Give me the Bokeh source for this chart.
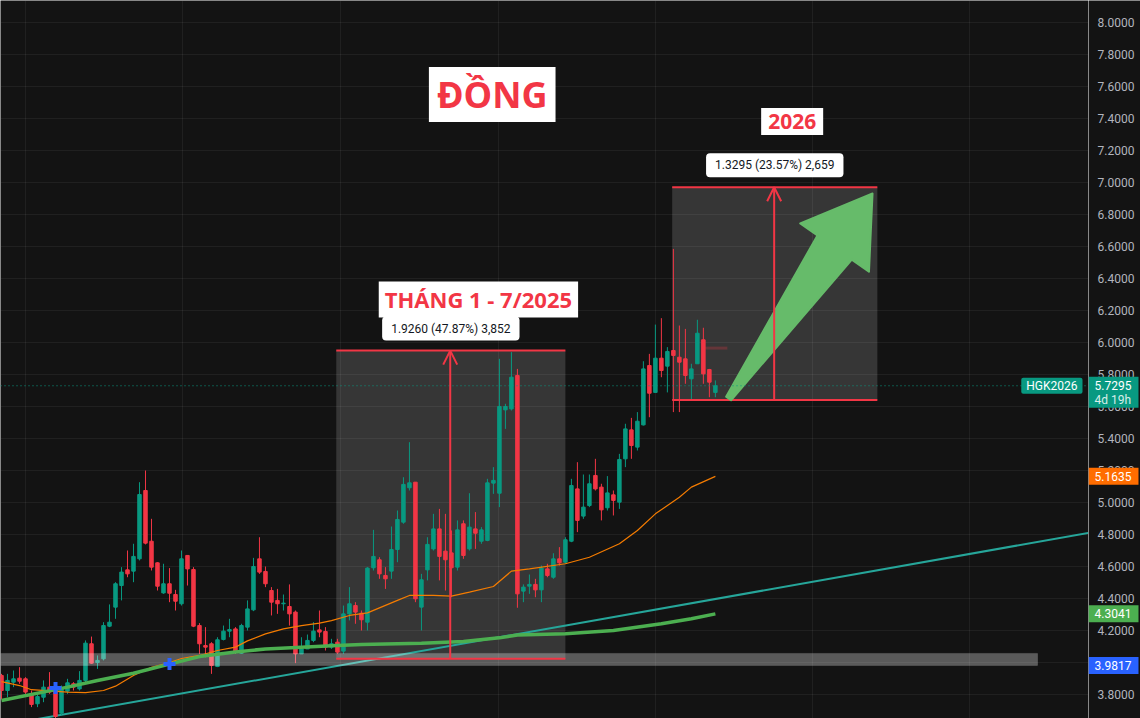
import numpy as np
from bokeh.plotting import figure
from bokeh.layouts import row
from bokeh.models import (Range1d, FixedTicker, Label, Arrow, OpenHead, Span, Grid,
                          ColumnDataSource)
from bokeh.core.properties import value
from bokeh.embed import file_html
from bokeh.resources import INLINE

# ---------------- data ----------------
opens = [3.919, 3.825, 3.877, 3.902, 3.898, 3.804, 3.742, 3.783, 3.846, 3.835,
         3.683, 3.821, 3.867, 3.835, 3.888, 4.117, 4.000, 4.023, 4.227, 4.346,
         4.481, 4.579, 4.571, 4.648, 5.075, 4.758, 4.623, 4.435, 4.492, 4.425,
         4.367, 4.669, 4.581, 4.231, 4.106, 4.117, 3.975, 4.144, 4.196, 4.210,
         4.058, 4.221, 4.329, 4.648, 4.569, 4.450, 4.388, 4.367, 4.350, 4.315,
         4.054, 4.085, 4.138, 4.204, 4.194, 4.096, 4.127, 4.071, 4.304, 4.356,
         4.308, 4.252, 4.592, 4.642, 4.544, 4.571, 4.706, 4.877, 5.092, 5.127,
         4.346, 4.579, 4.710, 4.835, 4.696, 4.685, 4.596, 4.867, 4.710, 4.835,
         4.758, 4.763, 5.121, 5.058, 5.579, 5.585, 5.794, 4.446, 4.477, 4.488,
         4.454, 4.585, 4.533, 4.648, 4.627, 4.758, 5.085, 4.915, 4.981, 5.169,
         5.096, 4.967, 5.048, 5.002, 5.273, 5.454, 5.346, 5.485, 5.856, 5.688,
         5.902, 5.852, 5.950, 5.908, 5.898, 5.773, 5.867, 6.017, 5.831, 5.688]
highs = [3.929, 3.929, 3.950, 3.971, 3.908, 3.825, 3.804, 3.888, 3.940, 3.846,
         3.856, 3.898, 3.877, 3.946, 4.138, 4.162, 4.044, 4.252, 4.363, 4.502,
         4.596, 4.700, 4.742, 5.127, 5.200, 4.898, 4.627, 4.617, 4.590, 4.454,
         4.700, 4.669, 4.596, 4.246, 4.221, 4.127, 4.158, 4.231, 4.273, 4.221,
         4.242, 4.388, 4.654, 4.783, 4.600, 4.471, 4.460, 4.425, 4.488, 4.325,
         4.158, 4.175, 4.252, 4.325, 4.221, 4.148, 4.148, 4.356, 4.471, 4.377,
         4.325, 4.596, 4.829, 4.658, 4.596, 4.850, 4.950, 5.158, 5.377, 5.127,
         4.554, 4.783, 4.929, 4.960, 4.929, 4.825, 4.888, 4.888, 5.058, 4.940,
         4.846, 5.148, 5.221, 5.898, 5.617, 5.940, 5.835, 4.488, 4.550, 4.523,
         4.606, 4.617, 4.683, 4.721, 4.783, 5.148, 5.252, 5.175, 5.175, 5.273,
         5.117, 5.165, 5.075, 5.304, 5.492, 5.529, 5.565, 5.883, 5.929, 6.112,
         6.152, 5.971, 6.585, 6.106, 6.085, 5.867, 6.142, 6.092, 5.835, 5.763]
lows = [3.770, 3.783, 3.846, 3.867, 3.804, 3.721, 3.721, 3.752, 3.804, 3.650,
        3.669, 3.804, 3.825, 3.825, 3.877, 3.992, 3.960, 4.013, 4.221, 4.273,
        4.388, 4.533, 4.502, 4.638, 4.738, 4.575, 4.450, 4.429, 4.377, 4.325,
        4.356, 4.481, 4.221, 4.054, 4.033, 3.929, 3.971, 4.138, 4.158, 4.054,
        4.054, 4.200, 4.321, 4.554, 4.471, 4.294, 4.304, 4.325, 4.231, 3.996,
        4.054, 4.085, 4.127, 4.158, 4.075, 4.085, 4.054, 4.054, 4.263, 4.242,
        4.200, 4.200, 4.575, 4.523, 4.460, 4.523, 4.627, 4.867, 5.075, 4.377,
        4.200, 4.513, 4.700, 4.513, 4.450, 4.408, 4.575, 4.648, 4.700, 4.710,
        4.742, 4.758, 5.054, 4.971, 5.460, 5.575, 4.342, 4.377, 4.429, 4.408,
        4.377, 4.533, 4.523, 4.606, 4.617, 4.752, 4.815, 4.898, 4.971, 5.075,
        4.888, 4.950, 4.919, 4.960, 5.221, 5.273, 5.325, 5.481, 5.533, 5.688,
        5.783, 5.688, 5.565, 5.565, 5.742, 5.638, 5.867, 5.742, 5.658, 5.658]
closes = [3.825, 3.888, 3.898, 3.883, 3.815, 3.738, 3.787, 3.846, 3.815, 3.663,
          3.835, 3.873, 3.846, 3.888, 4.121, 3.996, 4.013, 4.231, 4.252, 4.492,
          4.565, 4.554, 4.663, 5.050, 4.746, 4.596, 4.477, 4.492, 4.433, 4.383,
          4.648, 4.585, 4.227, 4.117, 4.096, 3.981, 4.142, 4.196, 4.206, 4.065,
          4.231, 4.335, 4.600, 4.565, 4.492, 4.377, 4.367, 4.371, 4.304, 4.054,
          4.085, 4.138, 4.196, 4.190, 4.096, 4.117, 4.065, 4.304, 4.367, 4.315,
          4.267, 4.590, 4.663, 4.554, 4.523, 4.706, 4.894, 5.113, 5.123, 4.398,
          4.517, 4.738, 4.835, 4.663, 4.642, 4.592, 4.829, 4.669, 4.846, 4.808,
          4.829, 5.123, 5.138, 5.600, 5.600, 5.783, 4.429, 4.471, 4.488, 4.454,
          4.590, 4.544, 4.648, 4.623, 4.767, 5.106, 4.888, 4.971, 5.117, 5.085,
          4.954, 5.060, 5.013, 5.269, 5.460, 5.356, 5.508, 5.835, 5.683, 5.902,
          5.825, 5.944, 5.919, 5.877, 5.794, 5.835, 6.058, 5.804, 5.752, 5.7295]

# moving averages (at several bars)
ma_fast_idx = [0, 3, 5, 11, 14, 17, 19, 22, 25, 28, 30, 33, 36, 39, 41, 44, 47, 50, 53,
               55, 58, 61, 66, 68, 72, 75, 78, 82, 85, 88, 94, 98, 103, 106, 109, 113, 115, 119]
ma_fast_val = [3.88, 3.856, 3.83, 3.815, 3.812, 3.825, 3.852, 3.919, 3.97, 4.0, 4.025,
               4.044, 4.075, 4.096, 4.135, 4.179, 4.21, 4.231, 4.246, 4.262, 4.294, 4.31,
               4.388, 4.419, 4.419, 4.415, 4.44, 4.475, 4.571, 4.585, 4.617, 4.658, 4.742,
               4.825, 4.929, 5.033, 5.096, 5.1635]
ma_slow_idx = [0, 11, 16, 22, 28, 33, 39, 44, 50, 55, 60, 70, 77, 83, 86, 94, 102, 110, 115, 119]
ma_slow_val = [3.762, 3.846, 3.888, 3.933, 3.99, 4.037, 4.065, 4.085, 4.096, 4.104, 4.112,
               4.121, 4.131, 4.154, 4.172, 4.179, 4.2, 4.242, 4.273, 4.3041]

trend_idx = [5, 181.2]
trend_val = [3.64, 4.81]

price_ticks = [3.8, 4.0, 4.2, 4.4, 4.6, 4.8, 5.0, 5.2, 5.4, 5.6, 5.8, 6.0, 6.2, 6.4,
               6.6, 6.8, 7.0, 7.2, 7.4, 7.6, 7.8, 8.0]
tick_labels = [f"{t:.4f}" for t in price_ticks]
month_ticks = [4.0, 30.2, 56.5, 82.8, 109.0, 135.2, 161.3]

band_low, band_high, band_end = 3.9817, 4.057, 172.7

measure1 = dict(start=55.8, end=94.0, low=4.0235, high=5.9495, at=74.8,
                text="1.9260 (47.87%) 3,852")
measure2 = dict(start=111.8, end=146.0, low=5.6405, high=6.97, at=128.8,
                text="1.3295 (23.57%) 2,659")

cross_idx = [9, 28]
cross_val = [3.84, 3.99]

mark_idx = [117.3, 121.0]
mark_val = 5.965

arrow_from = (121.2, 5.65)
arrow_to = (145.2, 6.931)

symbol = "HGK2026"
countdown = "4d 19h"
last_price = 5.7295
ma_fast_last = 5.1635
ma_slow_last = 4.3041

title_main = ("ĐỒNG", 81.8, 7.55)
title_range = ("THÁNG 1 - 7/2025", 79.5, 6.269)
title_year = ("2026", 131.8, 7.381)

# ---------------- style ----------------
BG = "#131313"
UP = "#089981"
DOWN = "#f23645"
ORANGE = "#ff6d00"
GREEN = "#4caf50"
BLUE = "#2962ff"
W, H = 1140, 718
AXIS_W = 52
X0, X1 = -0.17, 181.2
Y0, Y1 = 3.65, 8.1375
sx = (W - AXIS_W) / (X1 - X0)
sy = H / (Y1 - Y0)

p = figure(width=W - AXIS_W, height=H, x_range=Range1d(X0, X1), y_range=Range1d(Y0, Y1),
           x_axis_location=None, y_axis_location=None,
           output_backend="svg", toolbar_location=None, min_border=0,
           min_border_left=0, min_border_right=0, min_border_top=0, min_border_bottom=0,
           background_fill_color=BG, border_fill_color=BG, outline_line_color=None)
p.grid.visible = False
p.add_layout(Grid(dimension=1, ticker=FixedTicker(ticks=price_ticks),
                  grid_line_color="#ffffff", grid_line_alpha=0.06))
p.add_layout(Grid(dimension=0, ticker=FixedTicker(ticks=month_ticks),
                  grid_line_color="#ffffff", grid_line_alpha=0.06))

# measure boxes (fill)
for m in (measure1, measure2):
    p.quad(left=m["start"], right=m["end"], bottom=m["low"], top=m["high"],
           fill_color="#ffffff", fill_alpha=0.15, line_color=None)

# trend line
p.line(trend_idx, trend_val, line_color="#26a69a", line_width=2)

# candles
idx = np.arange(len(opens))
o = np.array(opens); c = np.array(closes)
colors = [UP if cc >= oo else DOWN for oo, cc in zip(opens, closes)]
src = ColumnDataSource(dict(x=idx, h=highs, l=lows, top=np.maximum(o, c),
                            bot=np.minimum(o, c), color=colors))
p.segment(x0="x", y0="h", x1="x", y1="l", line_color="color", line_width=1, source=src)
p.vbar(x="x", width=0.58, top="top", bottom="bot", fill_color="color",
       line_color="color", line_width=1, source=src)

# support band
p.quad(left=X0, right=band_end, bottom=band_low, top=band_high,
       fill_color="#ffffff", fill_alpha=0.3, line_color="#ffffff", line_alpha=0.12)

# moving averages
p.line(ma_fast_idx, ma_fast_val, line_color="#f57c00", line_width=1.2)
p.line(ma_slow_idx, ma_slow_val, line_color=GREEN, line_width=3.5)

p.scatter(cross_idx, cross_val, marker="cross", size=12, line_width=4, line_color=BLUE)

p.segment(x0=mark_idx[0], x1=mark_idx[1], y0=mark_val, y1=mark_val,
          line_color=DOWN, line_alpha=0.25, line_width=3)

# last price dotted line
p.add_layout(Span(location=last_price, dimension="width", line_color=UP,
                  line_dash="1 3", line_width=1))

# measure lines, arrows and labels
for m in (measure1, measure2):
    p.segment(x0=[m["start"], m["start"]], x1=[m["end"], m["end"]],
              y0=[m["low"], m["high"]], y1=[m["low"], m["high"]],
              line_color=DOWN, line_width=2)
    p.add_layout(Arrow(end=OpenHead(size=14, line_color=DOWN, line_width=2),
                       x_start=m["at"], y_start=m["low"], x_end=m["at"], y_end=m["high"],
                       line_color=DOWN, line_width=2))
    p.add_layout(Label(x=(m["start"] + m["end"]) / 2, y=m["high"] + 22 / sy, text=m["text"],
                       text_align="center", text_baseline="middle",
                       text_font="Roboto", text_font_size="12px", text_color="#131722",
                       background_fill_color="#ffffff", background_fill_alpha=1.0,
                       padding=(9, 5), border_radius=4))

# big green arrow (shape built in screen proportions)
P0 = np.array([arrow_from[0] * sx, arrow_from[1] * sy])
P1 = np.array([arrow_to[0] * sx, arrow_to[1] * sy])
d = P1 - P0
u = d / np.linalg.norm(d)
n = np.array([-u[1], u[0]])
head_len, head_hw, neck_hw, tail_hw = 66, 42, 21, 3
B = P1 - u * head_len
pts = [P0 + n * tail_hw, B + n * neck_hw, B + n * head_hw, P1,
       B - n * head_hw, B - n * neck_hw, P0 - n * tail_hw]
p.patch([q[0] / sx for q in pts], [q[1] / sy for q in pts],
        fill_color="#66bb6a", fill_alpha=1.0, line_color="#66bb6a", line_width=2,
        line_join="round")

# title boxes
for (txt, tx, ty), fs, pad in ((title_main, "36px", (8, 3)),
                               (title_range, "22px", (6, 3)),
                               (title_year, "21px", (7, 6))):
    p.add_layout(Label(x=tx, y=ty, text=txt, text_align="center", text_baseline="middle",
                       text_font="Open Sans", text_font_style="bold", text_font_size=fs,
                       text_color=DOWN, background_fill_color="#ffffff",
                       background_fill_alpha=1.0, padding=pad))

# symbol tag inside the chart
p.add_layout(Label(x=X1, y=last_price, x_offset=-6, text=symbol, text_align="right",
                   text_baseline="middle", text_font="Roboto", text_font_size="12px",
                   text_color="#ffffff", background_fill_color=UP,
                   background_fill_alpha=1.0, padding=(5, 1), border_radius=2))

# ---------------- price scale (right) ----------------
q = figure(width=AXIS_W, height=H, x_range=Range1d(0, AXIS_W), y_range=p.y_range,
           x_axis_location=None, y_axis_location=None,
           output_backend="svg", toolbar_location=None, min_border=0,
           min_border_left=0, min_border_right=0, min_border_top=0, min_border_bottom=0,
           background_fill_color=BG, border_fill_color=BG, outline_line_color=None)
q.grid.visible = False
q.text(x=9, y=price_ticks, text=tick_labels, text_font=value("Roboto"),
       text_font_size="12px", text_color="#b2b5be", text_align="left",
       text_baseline="middle")

def tag(price, text, color, top_px=8.5, bottom_px=8.5):
    q.quad(left=0, right=50, bottom=price - bottom_px / sy, top=price + top_px / sy,
           fill_color=color, line_color=None)
    q.text(x=[6], y=[price], text=[text], text_font=value("Roboto"),
           text_font_size="12px", text_color="#ffffff", text_align="left",
           text_baseline="middle")

tag(last_price, f"{last_price:.4f}", UP, top_px=9, bottom_px=22)
q.text(x=[6], y=[last_price - 14.5 / sy], text=[countdown], text_font=value("Roboto"),
       text_font_size="12px", text_color="#d8eee9", text_align="left",
       text_baseline="middle")
tag(ma_fast_last, f"{ma_fast_last:.4f}", ORANGE)
tag(ma_slow_last, f"{ma_slow_last:.4f}", GREEN)
tag(band_low, f"{band_low:.4f}", BLUE)

layout = row(p, q, spacing=0)
open("out.html", "w", encoding="utf-8").write(file_html(layout, INLINE))
